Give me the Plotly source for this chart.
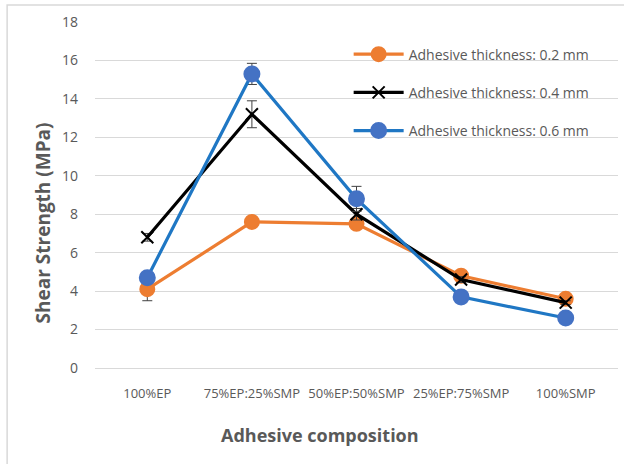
import plotly.graph_objects as go

# Shear strength (MPa) by adhesive composition for three bond-line thicknesses
categories = ["100%EP", "75%EP:25%SMP", "50%EP:50%SMP", "25%EP:75%SMP", "100%SMP"]

strength_02 = [4.1, 7.6, 7.5, 4.8, 3.6]
error_02 = [0.6, 0.15, 0.2, 0.15, 0.1]

strength_04 = [6.8, 13.2, 8.0, 4.6, 3.4]
error_04 = [0.2, 0.7, 0.3, 0.15, 0.1]

strength_06 = [4.7, 15.3, 8.8, 3.7, 2.6]
error_06 = [0.2, 0.55, 0.65, 0.15, 0.1]

y_ticks = [0, 2, 4, 6, 8, 10, 12, 14, 16, 18]

x_title = "Adhesive composition"
y_title = "Shear Strength (MPa)"

series = [
    ("Adhesive thickness: 0.2 mm", strength_02, error_02, "#ED7D31", "circle", 14),
    ("Adhesive thickness: 0.4 mm", strength_04, error_04, "#000000", "x-thin-open", 12),
    ("Adhesive thickness: 0.6 mm", strength_06, error_06, "#1F77C4", "circle", 15),
]

marker_fill = {"#1F77C4": "#4472C4"}

fig = go.Figure()
for i, (name, vals, errs, color, symbol, size) in enumerate(series):
    fill = marker_fill.get(color, color)
    fig.add_trace(go.Scatter(
        x=categories,
        y=vals,
        name=name,
        mode="lines+markers",
        legendgroup=f"g{i}",
        line=dict(color=color, width=3.2),
        marker=dict(
            symbol=symbol,
            size=size,
            color=fill,
            line=dict(color=fill, width=2),
        ),
        error_y=dict(
            type="data",
            array=errs,
            visible=True,
            color="#404040",
            thickness=1,
            width=5,
        ),
    ))

fig.update_layout(
    width=624,
    height=464,
    margin=dict(l=95, r=6, t=22, b=96),
    paper_bgcolor="white",
    plot_bgcolor="white",
    font=dict(family="Open Sans, Liberation Sans, sans-serif", color="#595959", size=13),
    showlegend=True,
    legend=dict(
        x=0.485,
        y=0.952,
        xanchor="left",
        yanchor="top",
        bgcolor="rgba(0,0,0,0)",
        font=dict(size=14, color="#595959"),
        traceorder="grouped",
        tracegroupgap=17,
        itemwidth=50,
    ),
    xaxis=dict(
        type="category",
        range=[-0.5, len(categories) - 0.5],
        showgrid=False,
        showline=True,
        linecolor="#D9D9D9",
        linewidth=1,
        ticks="",
        ticklabelstandoff=13,
        tickfont=dict(size=13, color="#595959"),
    ),
    yaxis=dict(
        range=[0, 18],
        tickvals=y_ticks,
        showgrid=True,
        gridcolor="#D9D9D9",
        gridwidth=1,
        zeroline=False,
        showline=False,
        ticks="",
        ticklabelstandoff=16,
        tickfont=dict(size=14, color="#595959"),
    ),
    annotations=[
        dict(
            text=f"<b>{x_title}</b>",
            xref="paper", yref="paper",
            x=0.43, y=-0.193,
            xanchor="center", yanchor="middle",
            showarrow=False,
            font=dict(size=18, color="#595959"),
        ),
        dict(
            text=f"<b>{y_title}</b>",
            xref="paper", yref="paper",
            x=-0.10, y=0.42,
            xanchor="center", yanchor="middle",
            textangle=-90,
            showarrow=False,
            font=dict(size=19, color="#595959"),
        ),
    ],
    shapes=[
        dict(
            type="rect",
            xref="paper",
            yref="paper",
            x0=-0.168,
            x1=1.2,
            y0=-0.5,
            y1=1.049,
            line=dict(color="#D9D9D9", width=1.5),
            fillcolor="rgba(0,0,0,0)",
            layer="below",
        )
    ],
)

fig.write_html("out.html")
